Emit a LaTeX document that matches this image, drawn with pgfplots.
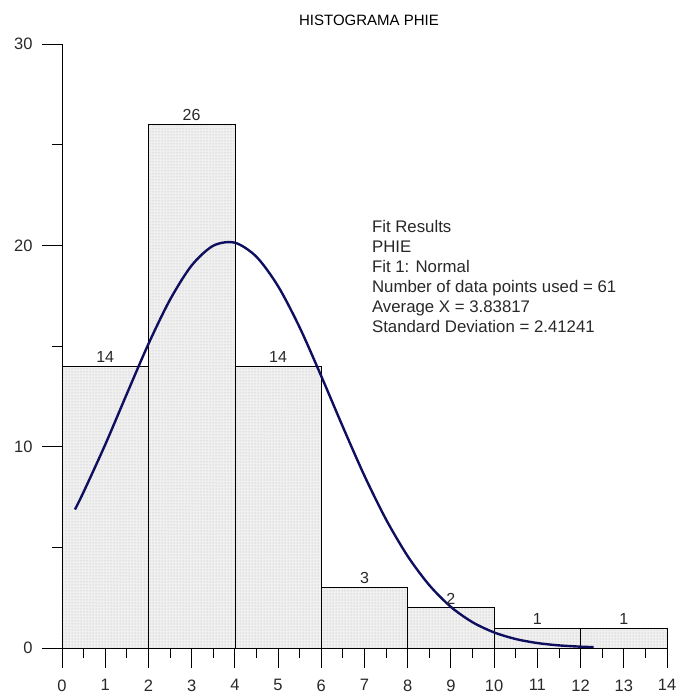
\documentclass[border=0pt]{standalone}
\usepackage{pgfplots}
\pgfplotsset{compat=1.18}
\usepackage{fontspec}
\setmainfont{Liberation Sans}
\usetikzlibrary{patterns}
\definecolor{curve}{RGB}{15,15,95}
\definecolor{txt}{RGB}{40,40,40}
\begin{document}
\begin{tikzpicture}[x=1pt,y=1pt]
\useasboundingbox (-62,-51) rectangle (617,648);
\begin{axis}[
  at={(0,0)}, anchor=south west,
  scale only axis, width=605pt, height=604pt,
  xmin=0, xmax=14, ymin=0, ymax=30,
  axis lines=left, axis line style={-, line width=0.9pt},
  axis on top,
  xtick={0,...,14}, ytick={0,10,20,30},
  minor xtick={0.5,1.5,...,13.5}, minor ytick={5,15,25},
  tick align=outside,
  major tick length=20pt, minor tick length=10pt,
  tick style={line width=0.9pt, black},
  /pgf/number format/assume math mode=true,
  tick label style={font=\fontsize{16.5}{19}\selectfont, text=txt},
  xticklabel style={yshift=-8pt},
  yticklabel style={xshift=-6pt},
  clip=false,
]
\addplot[ybar interval, draw=black, line width=0.6pt, fill=black!6,
  postaction={pattern=dots, pattern color=black!30}]
  coordinates {(0,14) (2,26) (4,14) (6,3) (8,2) (10,1) (12,1) (14,1)};
\addplot[curve, line width=2.4pt, smooth] coordinates {
(0.3,6.88) (0.5,7.75) (1,10.10) (1.5,12.62) (2,15.10) (2.5,17.30) (3,19.00)
(3.5,19.98) (4,20.13) (4.5,19.43) (5,17.97) (5.5,15.92) (6,13.50)
(6.5,10.98) (7,8.55) (7.5,6.38) (8,4.56) (8.5,3.12) (9,2.04) (9.5,1.28)
(10,0.773) (10.5,0.446) (11,0.246) (11.5,0.130) (12,0.066) (12.3,0.043)};
\begin{scope}[every node/.style={font=\fontsize{16}{18}\selectfont, text=txt, anchor=south, inner sep=3.5pt}]
\node at (axis cs:1,14) {14};
\node at (axis cs:3,26) {26};
\node at (axis cs:5,14) {14};
\node at (axis cs:7,3) {3};
\node at (axis cs:9,2) {2};
\node at (axis cs:11,1) {1};
\node at (axis cs:13,1) {1};
\end{scope}
\node[anchor=north west, align=left, text=txt, inner sep=0pt,
  font=\fontsize{16.8}{20}\selectfont] at (axis cs:7.17,21.25)
  {Fit Results\\PHIE\\Fit 1: Normal\\Number of data points used = 61\\Average X = 3.83817\\Standard Deviation = 2.41241};
\end{axis}
\node[font=\fontsize{15}{18}\selectfont] at (307,628) {HISTOGRAMA PHIE};
\end{tikzpicture}
\end{document}
